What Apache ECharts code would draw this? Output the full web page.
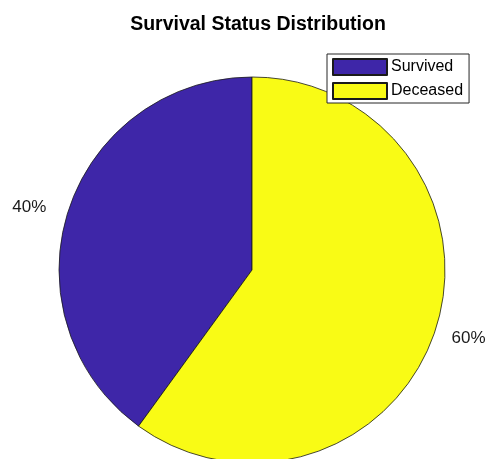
<!DOCTYPE html>
<html>
<head>
<meta charset="utf-8">
<script src="https://cdn.jsdelivr.net/npm/echarts@6/dist/echarts.min.js"></script>
<style>
  html, body { margin: 0; padding: 0; background: #ffffff; }
  #chart { width: 493px; height: 459px; }
</style>
</head>
<body>
<div id="chart"></div>
<script>
// Survival outcome counts, shown as percentage shares
const categories = ['Survived', 'Deceased'];
const shares = [40, 60];
const sliceColors = ['#3e26a8', '#f9fb15'];
// gap between the slice label and its anchor point, per slice
const labelGaps = [4, -2];

const chart = echarts.init(document.getElementById('chart'), null, { renderer: 'canvas' });

chart.setOption({
  animation: false,
  backgroundColor: '#ffffff',
  title: {
    text: 'Survival Status Distribution',
    left: 253,
    textAlign: 'center',
    top: 10,
    textStyle: {
      fontFamily: 'Liberation Sans, Arial, sans-serif',
      fontSize: 19.5,
      fontWeight: 'bold',
      color: '#000000'
    }
  },
  legend: {
    orient: 'vertical',
    left: 327,
    top: 54,
    padding: [4, 6, 3, 5],
    itemWidth: 54,
    itemHeight: 16,
    itemGap: 6,
    backgroundColor: '#ffffff',
    borderColor: '#262626',
    borderWidth: 1,
    borderRadius: 0,
    icon: 'rect',
    data: categories,
    textStyle: {
      fontFamily: 'Liberation Sans, Arial, sans-serif',
      fontSize: 16,
      color: '#000000',
      padding: [0, 0, 0, -1]
    }
  },
  series: [{
    type: 'pie',
    center: [252, 270],
    radius: 193,
    startAngle: 90,
    clockwise: false,
    avoidLabelOverlap: false,
    silent: true,
    itemStyle: {
      borderColor: '#1a1a1a',
      borderWidth: 0.8
    },
    label: {
      show: true,
      position: 'outside',
      formatter: '{d}%',
      fontFamily: 'Liberation Sans, Arial, sans-serif',
      fontSize: 17,
      color: '#1a1a1a'
    },
    labelLine: {
      show: false,
      length: 19,
      length2: 0
    },
    labelLayout: { dy: 3 },
    data: categories.map((name, i) => ({
      name: name,
      value: shares[i],
      itemStyle: { color: sliceColors[i] },
      label: { distanceToLabelLine: labelGaps[i] }
    }))
  }]
});
</script>
</body>
</html>
